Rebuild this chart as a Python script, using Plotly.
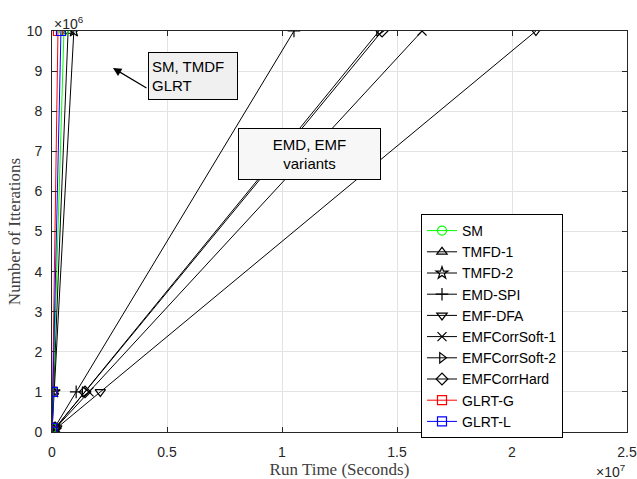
import plotly.graph_objects as go

# Data
iterations = [1e4, 1e5, 1e6, 1e7]
series_names = ["SM", "TMFD-1", "TMFD-2", "EMD-SPI", "EMF-DFA", "EMFCorrSoft-1",
                "EMFCorrSoft-2", "EMFCorrHard", "GLRT-G", "GLRT-L"]
sm_time = [5.2e2, 5.2e3, 5.2e4, 5.2e5]
tmfd1_time = [7.0e2, 7.0e3, 7.0e4, 7.0e5]
tmfd2_time = [9.5e2, 9.5e3, 9.5e4, 9.5e5]
emdspi_time = [1.05e4, 1.05e5, 1.05e6, 1.052e7]
emfdfa_time = [2.1e4, 2.1e5, 2.1e6, 2.104e7]
emfsoft1_time = [1.61e4, 1.61e5, 1.61e6, 1.609e7]
emfsoft2_time = [1.42e4, 1.42e5, 1.42e6, 1.422e7]
emfhard_time = [1.435e4, 1.435e5, 1.435e6, 1.435e7]
glrtg_time = [2.6e2, 2.6e3, 2.6e4, 2.6e5]
glrtl_time = [3.9e2, 3.9e3, 3.9e4, 3.9e5]

times = [sm_time, tmfd1_time, tmfd2_time, emdspi_time, emfdfa_time, emfsoft1_time,
         emfsoft2_time, emfhard_time, glrtg_time, glrtl_time]
colors = ["#00ff00", "black", "black", "black", "black", "black", "black", "black",
          "#ff0000", "#0000ff"]
symbols = ["circle-open", "triangle-up-open", "star-open", "cross-thin-open",
           "triangle-down-open", "x-thin-open", "triangle-right-open", "diamond-open",
           "square-open", "square-open"]

XS = 1e7
YS = 1e6

fig = go.Figure()
draw_order = [3, 4, 5, 6, 7, 1, 2, 0, 8, 9]
for i in draw_order:
    fig.add_trace(go.Scatter(
        x=[t / XS for t in times[i]],
        y=[n / YS for n in iterations],
        mode="lines+markers",
        name=series_names[i],
        legendrank=i + 1,
        line=dict(color=colors[i], width=1),
        marker=dict(symbol=symbols[i], size=9, color=colors[i],
                    line=dict(color=colors[i], width=1.2)),
    ))

font_sans = "Liberation Sans, Arial, sans-serif"
font_serif = "Liberation Serif, DejaVu Serif, serif"
axis_col = "#262626"
title_col = "#404040"

# plot area in pixels: x 52..627, y 31..432
PX = 575 / 2.5
PY = 401 / 10.0


def dx(px):
    return (px - 52) / PX


def dy(py):
    return (432 - py) / PY


fig.update_layout(
    width=637, height=479,
    margin=dict(l=52, r=10, t=31, b=47, autoexpand=False),
    paper_bgcolor="white", plot_bgcolor="white",
    font=dict(family=font_sans, size=14, color=axis_col),
    showlegend=True,
    legend=dict(
        x=(421 - 52) / 575, y=(432 - 214) / 401, xanchor="left", yanchor="top",
        bgcolor="white", bordercolor="black", borderwidth=1,
        font=dict(family=font_sans, size=14, color="black"),
        itemwidth=30, tracegroupgap=0,
    ),
    xaxis=dict(
        range=[0, 2.5], dtick=0.5, tick0=0, automargin=False,
        showgrid=True, gridcolor="#e3e3e3", gridwidth=1,
        showline=True, linecolor=axis_col, linewidth=1, mirror="ticks",
        ticks="inside", ticklen=5, tickcolor=axis_col,
        zeroline=False, ticklabelstandoff=7,
        tickfont=dict(family=font_sans, size=14, color=axis_col),
        title=dict(text="Run Time (Seconds)", standoff=0,
                   font=dict(family=font_serif, size=17, color=title_col)),
    ),
    yaxis=dict(
        range=[0, 10], dtick=1, tick0=0, automargin=False,
        showgrid=True, gridcolor="#e3e3e3", gridwidth=1,
        showline=True, linecolor=axis_col, linewidth=1, mirror="ticks",
        ticks="inside", ticklen=5, tickcolor=axis_col,
        zeroline=False, ticklabelstandoff=6,
        tickfont=dict(family=font_sans, size=14, color=axis_col),
        title=dict(text="Number of Itterations", standoff=1,
                   font=dict(family=font_serif, size=17, color=title_col)),
    ),
    annotations=[
        dict(xref="paper", yref="paper", x=0, y=1, xanchor="left", yanchor="bottom",
             text="\u00d710<sup>6</sup>", showarrow=False, yshift=-3,
             font=dict(family=font_sans, size=14, color=axis_col)),
        dict(xref="paper", yref="paper", x=1, y=0, xanchor="right", yanchor="top",
             text="\u00d710<sup>7</sup>", showarrow=False, yshift=-28,
             font=dict(family=font_sans, size=14, color=axis_col)),
        # arrow only
        dict(xref="x", yref="y", x=dx(113), y=dy(68),
             ax=dx(148), ay=dy(89), axref="x", ayref="y",
             text="", showarrow=True, arrowhead=2, arrowsize=1.4, arrowwidth=1.2,
             arrowcolor="black", standoff=0, startstandoff=0),
        dict(xref="x", yref="y", x=dx(193), y=dy(76),
             text="SM, TMDF<br>GLRT", align="left", showarrow=False,
             bgcolor="#f0f0f0", bordercolor="black", borderwidth=1, borderpad=3,
             width=82, height=40,
             font=dict(family=font_sans, size=15, color="black")),
        dict(xref="x", yref="y", x=dx(309.5), y=dy(154),
             text="EMD, EMF<br>variants", align="center", showarrow=False,
             bgcolor="#f7f7f7", bordercolor="black", borderwidth=1, borderpad=3,
             width=135, height=44,
             font=dict(family=font_sans, size=15, color="black")),
    ],
)

fig.write_html("out.html")
